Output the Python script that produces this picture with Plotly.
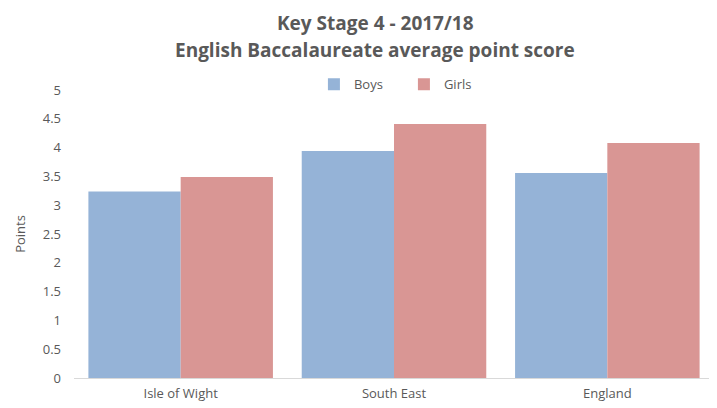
import plotly.graph_objects as go

categories = ["Isle of Wight", "South East", "England"]
boys = [3.24, 3.94, 3.56]
girls = [3.49, 4.41, 4.08]
y_ticks = [0, 0.5, 1, 1.5, 2, 2.5, 3, 3.5, 4, 4.5, 5]
y_tick_labels = ["0", "0.5", "1", "1.5", "2", "2.5", "3", "3.5", "4", "4.5", "5"]
title_lines = ["Key Stage 4 - 2017/18", "English Baccalaureate average point score"]

grey = "#595959"
# page body has an 8px default margin, so the figure is sized 8px smaller
fig = go.Figure()
fig.add_trace(go.Bar(name="Boys", x=categories, y=boys, marker_color="#95B3D7", marker_line_width=0))
fig.add_trace(go.Bar(name="Girls", x=categories, y=girls, marker_color="#D99694", marker_line_width=0))

fig.update_layout(
    width=709, height=400,
    barmode="group", bargap=0.135, bargroupgap=0,
    plot_bgcolor="white", paper_bgcolor="white",
    margin=dict(l=66, r=3, t=82, b=30, autoexpand=False),
    font=dict(family="Open Sans", color=grey, size=13),
    legend=dict(
        orientation="h", x=0.5155, xanchor="center", y=1.02, yanchor="middle",
        font=dict(size=13, color=grey), itemwidth=30, traceorder="normal",
        entrywidth=45, entrywidthmode="pixels",
    ),
    showlegend=True,
)
fig.add_annotation(text="<b>%s</b>" % title_lines[0], xref="paper", yref="paper",
                   x=(375 - 74) / 640, y=1 + (90 - 23) / 288, showarrow=False,
                   xanchor="center", yanchor="middle", font=dict(size=19, color=grey))
fig.add_annotation(text="<b>%s</b>" % title_lines[1], xref="paper", yref="paper",
                   x=(375 - 74) / 640, y=1 + (90 - 50) / 288, showarrow=False,
                   xanchor="center", yanchor="middle", font=dict(size=19, color=grey))
fig.update_xaxes(
    showline=True, linecolor="#D9D9D9", linewidth=1, showgrid=False, automargin=False,
    ticks="", ticklabelstandoff=3, tickfont=dict(size=13, color=grey),
)
fig.update_yaxes(
    range=[0, 5], tickvals=y_ticks, ticktext=y_tick_labels, showgrid=False, automargin=False,
    zeroline=False, showline=False, ticks="", ticklabelstandoff=12,
    tickfont=dict(size=13, color=grey),
    title=dict(text="Points", font=dict(size=13, color=grey), standoff=14),
)
fig.write_html("out.html")
